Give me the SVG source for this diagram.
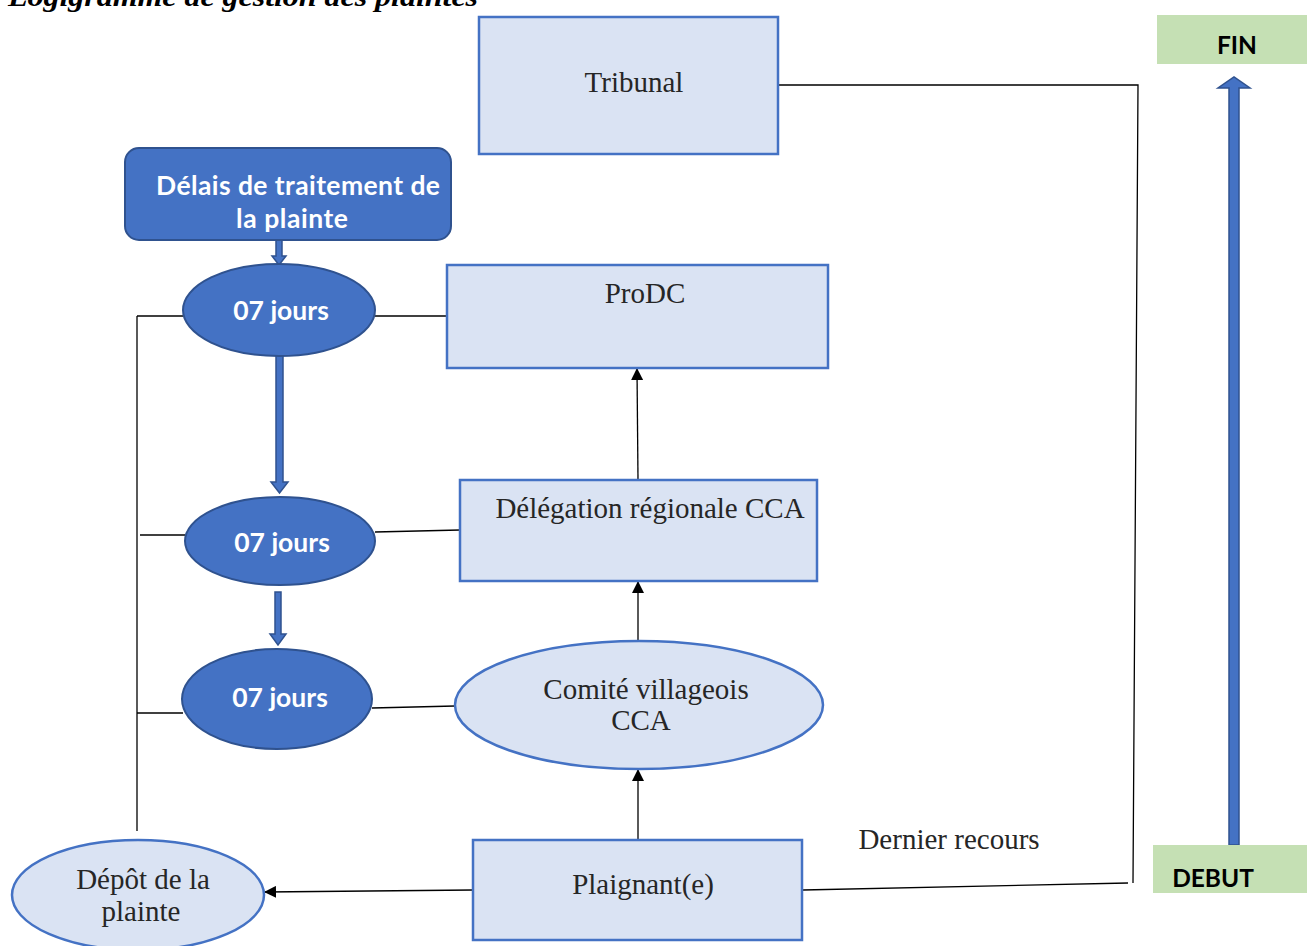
<svg xmlns="http://www.w3.org/2000/svg" width="1307" height="946" viewBox="0 0 1307 946">
<defs>
<marker id="ah" markerWidth="12" markerHeight="12" refX="11" refY="6" orient="auto" markerUnits="userSpaceOnUse"><path d="M0,0 L12,6 L0,12 Z" fill="#000"/></marker>
<style>
.box{fill:#dae3f3;stroke:#4472c4;stroke-width:2.5}
.dark{fill:#4472c4;stroke:#2f528f;stroke-width:2}
.green{fill:#c5e0b4}
.ser{font-family:"Liberation Serif","Times New Roman",serif;font-size:29px;fill:#262626;text-anchor:middle}
.wh{font-family:Lato,"Open Sans",sans-serif;font-weight:bold;font-size:26.5px;fill:#fff;text-anchor:middle}
.bk{font-family:Lato,"Open Sans",sans-serif;font-weight:bold;font-size:24.5px;fill:#000;text-anchor:middle}
.ln{stroke:#000;stroke-width:1.3;fill:none}
.arr{stroke:#000;stroke-width:1.3;fill:none;marker-end:url(#ah)}
.bar{fill:#4472c4;stroke:#2f528f;stroke-width:1.5}
</style>
</defs>
<rect width="1307" height="946" fill="#fff"/>
<text x="8" y="6" font-family="Liberation Serif,serif" font-weight="bold" font-style="italic" font-size="28" textLength="470" lengthAdjust="spacingAndGlyphs">Logigramme de gestion des plaintes</text>

<g id="connectors">
<polyline class="ln" points="778,85 1138,85 1133,883"/>
<line class="ln" x1="803" y1="890" x2="1128" y2="883"/>
<line class="arr" x1="638" y1="840" x2="638" y2="770"/>
<line class="arr" x1="638" y1="642" x2="638" y2="582"/>
<line class="arr" x1="638" y1="480" x2="637" y2="369"/>
<line class="ln" x1="375" y1="316" x2="447" y2="316"/>
<line class="ln" x1="375" y1="532" x2="460" y2="530"/>
<line class="ln" x1="372" y1="708" x2="455" y2="706"/>
<line class="ln" x1="137" y1="316" x2="137" y2="831"/>
<line class="ln" x1="137" y1="316" x2="183" y2="316"/>
<line class="ln" x1="140" y1="535" x2="185" y2="535"/>
<line class="ln" x1="137" y1="713" x2="183" y2="713"/>
<line class="arr" x1="473" y1="890" x2="265" y2="892"/>
<path class="bar" d="M276,240 h6 v16 h4 l-7,9 l-7,-9 h4 Z"/>
<path class="bar" d="M276,353 h7 v129 h5 l-8.5,11 l-8.5,-11 h5 Z"/>
<path class="bar" d="M275,592 h6 v42 h5 l-8,11 l-8,-11 h5 Z"/>
<path class="bar" d="M1229,845 V88 h-11 l16,-11 l16,11 h-11 V845 Z"/>
</g>

<g id="tribunal"><rect class="box" x="479" y="17" width="299" height="137"/><text class="ser" x="634" y="92">Tribunal</text></g>
<g id="fin"><rect class="green" x="1157" y="15" width="150" height="49"/><text class="bk" x="1237" y="54">FIN</text></g>
<g id="debut"><rect class="green" x="1153" y="845" width="154" height="48"/><text class="bk" x="1213" y="887">DEBUT</text></g>
<g id="delais"><rect class="dark" x="125" y="148" width="326" height="92" rx="14"/><text class="wh" x="298" y="195" textLength="284">Délais de traitement de</text><text class="wh" x="292" y="228" textLength="112">la plainte</text></g>
<g id="j1"><ellipse class="dark" cx="279" cy="310" rx="96" ry="46"/><text class="wh" x="281" y="320">07 jours</text></g>
<g id="j2"><ellipse class="dark" cx="280" cy="541" rx="95" ry="44"/><text class="wh" x="282" y="552">07 jours</text></g>
<g id="j3"><ellipse class="dark" cx="277" cy="699" rx="95" ry="50"/><text class="wh" x="280" y="707">07 jours</text></g>
<g id="prodc"><rect class="box" x="447" y="265" width="381" height="103"/><text class="ser" x="645" y="303">ProDC</text></g>
<g id="delegation"><rect class="box" x="460" y="480" width="357" height="101"/><text class="ser" x="650" y="518">Délégation régionale CCA</text></g>
<g id="comite"><ellipse class="box" cx="639" cy="705" rx="184" ry="64"/><text class="ser" x="646" y="699">Comité villageois</text><text class="ser" x="641" y="730">CCA</text></g>
<g id="plaignant"><rect class="box" x="473" y="840" width="329" height="100"/><text class="ser" x="643" y="894">Plaignant(e)</text></g>
<g id="depot"><ellipse class="box" cx="138" cy="895" rx="126" ry="55"/><text class="ser" x="143" y="889">Dépôt de la</text><text class="ser" x="141" y="921">plainte</text></g>
<text class="ser" x="949" y="849">Dernier recours</text>
</svg>
